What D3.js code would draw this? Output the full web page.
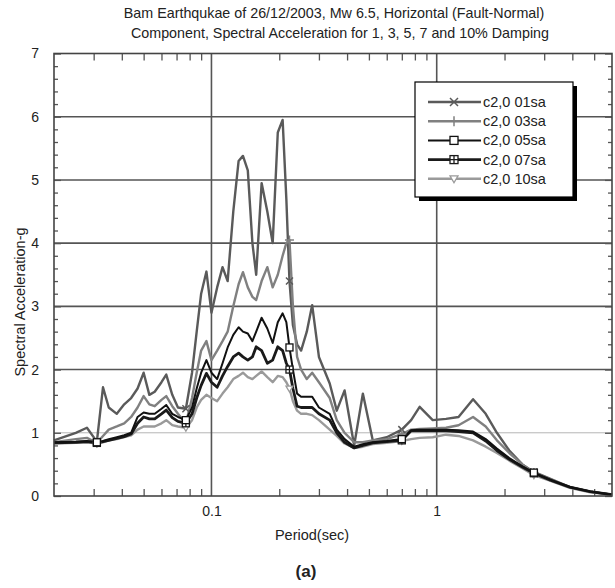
<!DOCTYPE html>
<html lang="en">
<head>
    <meta charset="UTF-8">
    <title>Bam Earthquake Spectra</title>
    <script src="https://d3js.org/d3.v7.min.js"></script>
    <style>
        body { margin: 0; background: #fff; }
        text { font-family: "Liberation Sans", Arial, sans-serif; fill: #222; }
    </style>
</head>
<body>
    <div id="chart"></div>
    <script>

        const periods = [0.02, 0.025, 0.028, 0.031, 0.033, 0.035, 0.038, 0.041, 0.044, 0.047,
            0.05, 0.053, 0.056, 0.06, 0.063, 0.067, 0.071, 0.077, 0.082, 0.086,
            0.09, 0.095, 0.1, 0.106, 0.112, 0.118, 0.125, 0.132, 0.138, 0.145,
            0.152, 0.158, 0.167, 0.177, 0.187, 0.197, 0.207, 0.215, 0.222, 0.23,
            0.24, 0.25, 0.265, 0.28, 0.3, 0.335, 0.36, 0.39, 0.43, 0.47,
            0.52, 0.6, 0.7, 0.77, 0.84, 0.96, 1.1, 1.25, 1.45, 1.65,
            1.85, 2.1, 2.4, 2.7, 3.2, 3.9, 4.8, 6.0];

        const damp01 = [0.88, 1.0, 1.08, 0.86, 1.72, 1.4, 1.3, 1.45, 1.55, 1.7,
            1.95, 1.6, 1.65, 1.8, 1.92, 1.6, 1.4, 1.38, 1.95, 2.6,
            3.2, 3.55, 2.9, 3.3, 3.62, 3.4, 4.5, 5.3, 5.38, 5.15,
            4.0, 3.5, 4.95, 4.5, 4.0, 5.75, 5.95, 4.7, 3.4, 2.7,
            2.4, 2.3, 2.6, 3.02, 2.2, 1.78, 1.35, 1.67, 0.8, 1.62,
            0.88, 0.93, 1.05, 1.2, 1.41, 1.2, 1.22, 1.25, 1.53, 1.3,
            1.0, 0.72, 0.5, 0.38, 0.27, 0.14, 0.07, 0.02];

        const damp03 = [0.85, 0.9, 0.92, 0.84, 0.95, 1.05, 1.1, 1.15, 1.25, 1.4,
            1.58, 1.45, 1.42, 1.52, 1.58, 1.42, 1.3, 1.15, 1.55, 1.95,
            2.3, 2.45, 2.15, 2.3, 2.45, 2.6, 3.0, 3.35, 3.54, 3.3,
            3.15, 3.1, 3.4, 3.62, 3.3, 3.5, 3.8, 4.0, 4.05, 3.0,
            2.2, 2.0, 1.85, 1.95, 1.8, 1.55, 1.2, 1.0, 0.85, 0.85,
            0.88, 0.9, 0.98, 1.05, 1.06, 1.07, 1.08, 1.12, 1.25, 1.1,
            0.88, 0.68, 0.5, 0.37, 0.26, 0.14, 0.07, 0.02];

        const damp05 = [0.85, 0.86, 0.87, 0.85, 0.87, 0.9, 0.93, 0.96, 1.0, 1.25,
            1.32, 1.3, 1.3, 1.38, 1.44, 1.3, 1.25, 1.2, 1.4, 1.7,
            1.95, 2.15, 1.95, 1.85, 2.1, 2.35, 2.55, 2.67, 2.6, 2.57,
            2.45, 2.6, 2.82, 2.65, 2.42, 2.75, 2.89, 2.75, 2.35, 2.0,
            1.62, 1.57, 1.57, 1.57, 1.4, 1.3, 1.05, 0.9, 0.78, 0.82,
            0.85, 0.87, 0.9, 1.04, 1.05, 1.05, 1.05, 1.04, 1.02, 0.9,
            0.75, 0.6, 0.47, 0.37, 0.26, 0.14, 0.07, 0.02];

        const damp07 = [0.84, 0.85, 0.86, 0.84, 0.86, 0.88, 0.91, 0.94, 0.98, 1.15,
            1.25, 1.22, 1.22, 1.3, 1.36, 1.24, 1.18, 1.15, 1.3, 1.55,
            1.75, 1.94, 1.8, 1.72, 1.9, 2.05, 2.2, 2.26, 2.2, 2.15,
            2.2, 2.36, 2.3, 2.1, 2.15, 2.36, 2.3, 2.1, 2.0, 1.7,
            1.42, 1.4, 1.4, 1.4, 1.3, 1.2, 1.0, 0.85, 0.76, 0.8,
            0.84, 0.86, 0.88, 1.03, 1.03, 1.03, 1.03, 1.02, 1.0, 0.87,
            0.72, 0.58, 0.46, 0.36, 0.25, 0.14, 0.07, 0.02];

        const damp10 = [0.83, 0.84, 0.85, 0.83, 0.85, 0.88, 0.9, 0.93, 0.96, 1.05,
            1.1, 1.1, 1.1, 1.15, 1.2, 1.12, 1.1, 1.08, 1.2, 1.4,
            1.52, 1.6, 1.55, 1.5, 1.62, 1.72, 1.85, 1.9, 1.95, 1.88,
            1.85, 1.9, 1.97, 1.88, 1.8, 1.9, 1.88, 1.8, 1.7, 1.5,
            1.35, 1.3, 1.3, 1.28, 1.2, 1.05, 0.95, 0.83, 0.76, 0.78,
            0.82, 0.84, 0.87, 0.9, 0.92, 0.93, 0.97, 0.95, 0.88, 0.78,
            0.68, 0.56, 0.44, 0.33, 0.24, 0.13, 0.06, 0.02];

        const seriesNames = ["c2,0 01sa", "c2,0 03sa", "c2,0 05sa", "c2,0 07sa", "c2,0 10sa"];
        const markerPeriods = [0.031, 0.077, 0.222, 0.7, 2.7];
        const yTicks = [0, 1, 2, 3, 4, 5, 6, 7];
        const xTickLabels = [{v: 0.1, t: "0.1"}, {v: 1, t: "1"}];

        var width = 615, height = 588;
        var plotLeft = 54, plotRight = 612, plotTop = 53.5, plotBottom = 496;

        var svg = d3.select("#chart").append("svg")
            .attr("width", width)
            .attr("height", height);

        var x = d3.scaleLog().domain([0.02, 6]).range([plotLeft, plotRight]);
        var y = d3.scaleLinear().domain([0, 7]).range([plotBottom, plotTop]);

        // styles per series: colour, width, marker
        var styles = [
            {color: "#5a5a5a", w: 2.4, mark: "x"},
            {color: "#808080", w: 2.4, mark: "plus"},
            {color: "#111", w: 2, mark: "square"},
            {color: "#1a1a1a", w: 2.8, mark: "boxplus"},
            {color: "#9a9a9a", w: 2.4, mark: "tri"}
        ];
        var values = [damp01, damp03, damp05, damp07, damp10];

        // grid
        var grid = svg.append("g");
        [2, 3, 4, 5, 6].forEach(function(v) {
            grid.append("line")
                .attr("x1", plotLeft).attr("x2", plotRight)
                .attr("y1", y(v)).attr("y2", y(v))
                .attr("stroke", "#555").attr("stroke-width", 1.6);
        });
        grid.append("line")
            .attr("x1", plotLeft).attr("x2", plotRight)
            .attr("y1", y(1)).attr("y2", y(1))
            .attr("stroke", "#b5b5b5").attr("stroke-width", 1);
        [0.1, 1].forEach(function(v) {
            grid.append("line")
                .attr("x1", x(v)).attr("x2", x(v))
                .attr("y1", plotTop).attr("y2", plotBottom)
                .attr("stroke", "#555").attr("stroke-width", 1.6);
        });

        // axes with inward ticks
        var minorX = [];
        [0.01, 0.1, 1].forEach(function(d) {
            for (var k = 2; k <= 9; k++) {
                var v = d * k;
                if (v > 0.02 && v < 6) minorX.push(v);
            }
        });
        var minorY = d3.range(0, 7.01, 0.2).filter(function(v) { return Math.abs(v - Math.round(v)) > 0.01; });

        function styleAxis(g) {
            g.select(".domain").remove();
            g.selectAll(".tick line").attr("stroke", "#555").attr("stroke-width", 1.3);
        }

        svg.append("g").attr("transform", "translate(0," + plotBottom + ")")
            .call(d3.axisBottom(x).tickValues(minorX).tickSize(-7).tickFormat(""))
            .call(styleAxis);
        svg.append("g").attr("transform", "translate(0," + plotTop + ")")
            .call(d3.axisTop(x).tickValues(minorX).tickSize(-7).tickFormat(""))
            .call(styleAxis);
        svg.append("g").attr("transform", "translate(" + plotLeft + ",0)")
            .call(d3.axisLeft(y).tickValues(minorY).tickSize(-4).tickFormat(""))
            .call(styleAxis);
        svg.append("g").attr("transform", "translate(" + plotRight + ",0)")
            .call(d3.axisRight(y).tickValues(minorY).tickSize(-4).tickFormat(""))
            .call(styleAxis);
        svg.append("g").attr("transform", "translate(" + plotLeft + ",0)")
            .call(d3.axisLeft(y).tickValues(yTicks).tickSize(-7).tickPadding(15).tickFormat(d3.format("d")))
            .call(styleAxis)
            .selectAll("text").attr("font-size", "14px").attr("fill", "#333");
        svg.append("g").attr("transform", "translate(" + plotRight + ",0)")
            .call(d3.axisRight(y).tickValues(yTicks).tickSize(-7).tickFormat(""))
            .call(styleAxis);
        svg.append("g").attr("transform", "translate(0," + plotBottom + ")")
            .call(d3.axisBottom(x).tickValues(xTickLabels.map(function(d) { return d.v; }))
                .tickSize(0).tickPadding(10)
                .tickFormat(function(v) { return xTickLabels.find(function(d) { return d.v === v; }).t; }))
            .call(styleAxis)
            .selectAll("text").attr("font-size", "14px").attr("fill", "#333");

        // curves
        var line = d3.line()
            .x(function(d) { return x(d[0]); })
            .y(function(d) { return y(d[1]); });

        function drawMarker(g, kind, cx, cy, color, s) {
            if (kind === "x") {
                g.append("path").attr("d", "M" + (cx - s) + "," + (cy - s) + "L" + (cx + s) + "," + (cy + s) +
                    "M" + (cx - s) + "," + (cy + s) + "L" + (cx + s) + "," + (cy - s))
                    .attr("stroke", color).attr("stroke-width", 1.5).attr("fill", "none");
            } else if (kind === "plus") {
                g.append("path").attr("d", "M" + (cx - s - 1) + "," + cy + "L" + (cx + s + 1) + "," + cy +
                    "M" + cx + "," + (cy - s - 1) + "L" + cx + "," + (cy + s + 1))
                    .attr("stroke", color).attr("stroke-width", 1.5).attr("fill", "none");
            } else if (kind === "square") {
                g.append("rect").attr("x", cx - s).attr("y", cy - s).attr("width", 2 * s).attr("height", 2 * s)
                    .attr("stroke", color).attr("stroke-width", 1.3).attr("fill", "#fff");
            } else if (kind === "boxplus") {
                g.append("rect").attr("x", cx - s).attr("y", cy - s).attr("width", 2 * s).attr("height", 2 * s)
                    .attr("stroke", color).attr("stroke-width", 1.3).attr("fill", "#fff");
                g.append("path").attr("d", "M" + (cx - s) + "," + cy + "L" + (cx + s) + "," + cy +
                    "M" + cx + "," + (cy - s) + "L" + cx + "," + (cy + s))
                    .attr("stroke", color).attr("stroke-width", 1.3);
            } else {
                g.append("path").attr("d", "M" + (cx - s) + "," + (cy - s + 1) + "L" + (cx + s) + "," + (cy - s + 1) +
                    "L" + cx + "," + (cy + s) + "Z")
                    .attr("stroke", color).attr("stroke-width", 1.3).attr("fill", "#fff");
            }
        }

        var plot = svg.append("g");
        [0, 1, 4, 3, 2].forEach(function(i) {
            var pts = periods.map(function(p, j) { return [p, values[i][j]]; });
            plot.append("path")
                .datum(pts)
                .attr("d", line)
                .attr("fill", "none")
                .attr("stroke", styles[i].color)
                .attr("stroke-width", styles[i].w)
                .attr("stroke-linejoin", "round");
        });
        [0, 1, 4, 3, 2].forEach(function(i) {
            markerPeriods.forEach(function(p) {
                var j = periods.indexOf(p);
                drawMarker(plot, styles[i].mark, x(p), y(values[i][j]), styles[i].color, 3.5);
            });
        });

        // frame
        svg.append("rect")
            .attr("x", plotLeft).attr("y", plotTop)
            .attr("width", plotRight - plotLeft).attr("height", plotBottom - plotTop)
            .attr("fill", "none").attr("stroke", "#444").attr("stroke-width", 1.6);

        // legend
        var lg = svg.append("g").attr("transform", "translate(415,82)");
        lg.append("rect").attr("x", 4).attr("y", 4).attr("width", 158).attr("height", 115).attr("fill", "#000");
        lg.append("rect").attr("x", 0).attr("y", 0).attr("width", 158).attr("height", 115)
            .attr("fill", "#fff").attr("stroke", "#000").attr("stroke-width", 1.2);
        seriesNames.forEach(function(name, i) {
            var ly = 20 + i * 19.2;
            lg.append("line").attr("x1", 13).attr("x2", 66).attr("y1", ly).attr("y2", ly)
                .attr("stroke", styles[i].color).attr("stroke-width", styles[i].w);
            drawMarker(lg, styles[i].mark, 39, ly, styles[i].color, 4);
            lg.append("text").attr("x", 68).attr("y", ly + 5)
                .attr("font-size", "14.5px").attr("fill", "#333").text(name);
        });

        // titles
        svg.append("text").attr("x", 334).attr("y", 18).attr("text-anchor", "middle")
            .attr("font-size", "14.3px").attr("fill", "#333")
            .text("Bam Earthqukae of 26/12/2003, Mw 6.5, Horizontal (Fault-Normal)");
        svg.append("text").attr("x", 340).attr("y", 38).attr("text-anchor", "middle")
            .attr("font-size", "14.3px").attr("fill", "#333")
            .text("Component, Spectral Acceleration for 1, 3, 5, 7 and 10% Damping");

        svg.append("text")
            .attr("transform", "translate(25,302) rotate(-90)")
            .attr("text-anchor", "middle").attr("font-size", "14.5px").attr("fill", "#333")
            .text("Spectral Acceleration-g");

        svg.append("text").attr("x", 312).attr("y", 540).attr("text-anchor", "middle")
            .attr("font-size", "14.5px").attr("fill", "#333")
            .text("Period(sec)");

        svg.append("text").attr("x", 306).attr("y", 577).attr("text-anchor", "middle")
            .attr("font-size", "17px").attr("font-weight", "bold").attr("fill", "#111")
            .text("(a)");
    </script>
</body>
</html>
